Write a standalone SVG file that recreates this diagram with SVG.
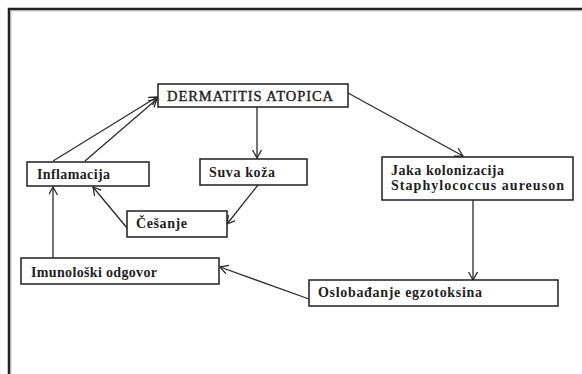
<svg xmlns="http://www.w3.org/2000/svg" width="582" height="374" viewBox="0 0 582 374">
<style>
.box{fill:#fff;stroke:#1e1e1e;stroke-width:1.5}
.lbl{font-family:"Liberation Serif","DejaVu Serif",serif;font-size:14px;font-weight:bold;fill:#1e1e1e}
.ttl{font-family:"Liberation Serif","DejaVu Serif",serif;font-size:14.5px;fill:#1e1e1e;stroke:#1e1e1e;stroke-width:0.4}
.con{fill:none;stroke:#2a2a2a;stroke-width:1.3;marker-end:url(#ah)}
</style>
<defs>
<marker id="ah" markerUnits="userSpaceOnUse" markerWidth="12" markerHeight="12" refX="8" refY="4.5" orient="auto">
<path d="M0,0 L8,4.5 L0,9" fill="none" stroke="#2a2a2a" stroke-width="1.3"/>
</marker>
</defs>
<rect width="582" height="374" fill="#fff"/>
<path d="M9,374 V9 H582" fill="none" stroke="#222" stroke-width="2.5"/>
<path d="M10.8,374 V10.8 H582" fill="none" stroke="#aaa" stroke-width="1"/>
<g id="connectors">
<line class="con" x1="53" y1="161" x2="157" y2="97"/>
<line class="con" x1="85" y1="161" x2="157" y2="99"/>
<line class="con" x1="257" y1="107" x2="257" y2="158"/>
<line class="con" x1="348" y1="93" x2="463" y2="156"/>
<line class="con" x1="258" y1="185" x2="227" y2="224"/>
<line class="con" x1="127" y1="228" x2="93" y2="187"/>
<line class="con" x1="53" y1="258" x2="53" y2="187"/>
<line class="con" x1="473" y1="200" x2="473" y2="280"/>
<line class="con" x1="309" y1="299" x2="220" y2="267"/>
</g>
<g id="dermatitis">
<rect class="box" x="158" y="84" width="190" height="23"/>
<text class="ttl" x="167" y="101" textLength="166" lengthAdjust="spacing">DERMATITIS ATOPICA</text>
</g>
<g id="inflamacija">
<rect class="box" x="27" y="162" width="122" height="24"/>
<text class="lbl" x="37" y="179" textLength="73" lengthAdjust="spacing">Inflamacija</text>
</g>
<g id="suva-koza">
<rect class="box" x="200" y="159" width="107" height="26"/>
<text class="lbl" x="209" y="177" textLength="66" lengthAdjust="spacing">Suva koža</text>
</g>
<g id="cesanje">
<rect class="box" x="127" y="211" width="100" height="26"/>
<text class="lbl" x="136" y="228" textLength="51" lengthAdjust="spacing">Češanje</text>
</g>
<g id="jaka-kolonizacija">
<rect class="box" x="382" y="157" width="191" height="43"/>
<text class="lbl" x="391" y="175" textLength="113" lengthAdjust="spacing">Jaka kolonizacija</text>
<text class="lbl" x="391" y="190" textLength="173" lengthAdjust="spacing">Staphylococcus aureuson</text>
</g>
<g id="imunoloski-odgovor">
<rect class="box" x="21" y="258" width="198" height="26"/>
<text class="lbl" x="31" y="277" textLength="126" lengthAdjust="spacing">Imunološki odgovor</text>
</g>
<g id="oslobadjanje">
<rect class="box" x="309" y="280" width="249" height="26"/>
<text class="lbl" x="318" y="297" textLength="164" lengthAdjust="spacing">Oslobađanje egzotoksina</text>
</g>
</svg>
